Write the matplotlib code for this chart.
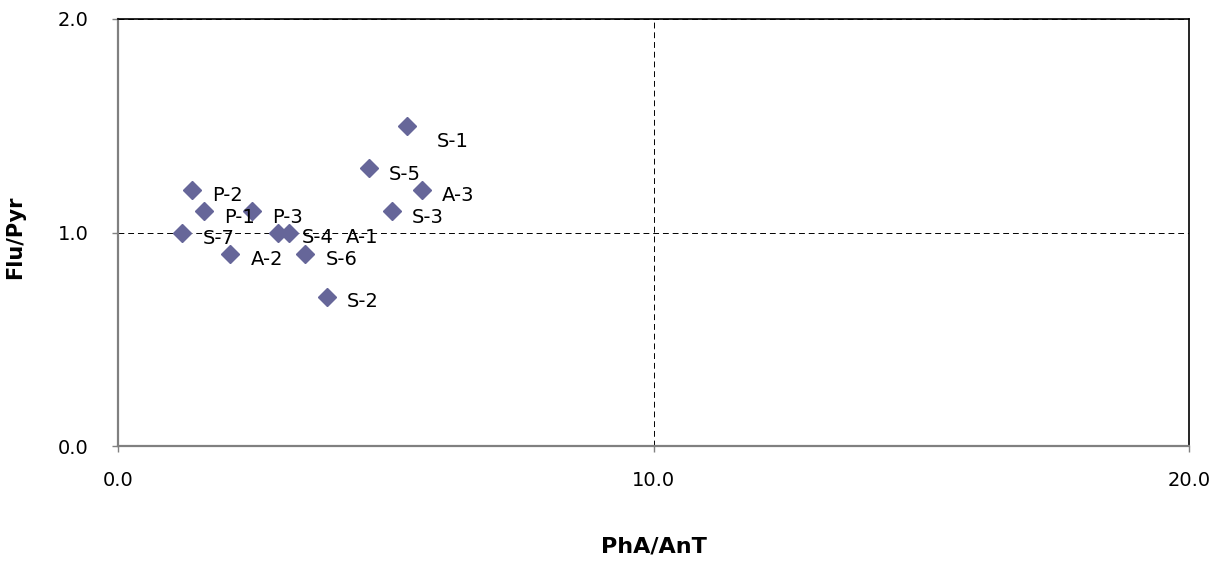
"""
Flu/Pyr vs PhA/AnT diagnostic ratio cross-plot.
"""
import matplotlib
matplotlib.use("Agg")
import matplotlib.pyplot as plt

# sample names and ratio values
samples = ["S-1", "S-5", "A-3", "S-3", "P-2", "P-1", "P-3",
           "S-7", "S-4", "A-1", "A-2", "S-6", "S-2"]
pha_ant = [5.40, 4.68, 5.68, 5.11, 1.39, 1.60, 2.50,
           1.20, 2.99, 3.19, 2.10, 3.50, 3.90]
flu_pyr = [1.50, 1.30, 1.20, 1.10, 1.20, 1.10, 1.10,
           1.00, 1.00, 1.00, 0.90, 0.90, 0.70]

x_ticks = [0.0, 10.0, 20.0]
y_ticks = [0.0, 1.0, 2.0]

# label offsets in pixels (right, down); most labels sit at the default spot
default_offset = (20, 6)
moved_labels = {"S-1": (30, 16), "S-4": (24, 5), "A-1": (57, 5), "S-2": (20, 5)}

MARKER_COLOR = "#666699"
SPINE_GRAY = "#808080"

plt.rcParams["font.family"] = ["DejaVu Sans"]

fig = plt.figure(figsize=(12.2, 5.62), dpi=100)
ax = fig.add_axes([118 / 1220, 1 - 446 / 562, (1189 - 118) / 1220, (446 - 19) / 562])

ax.plot(pha_ant, flu_pyr, linestyle="none", marker="D", markersize=9,
        markerfacecolor=MARKER_COLOR, markeredgecolor=MARKER_COLOR, zorder=3)

for name, x, y in zip(samples, pha_ant, flu_pyr):
    dx, dy = moved_labels.get(name, default_offset)
    ax.annotate(name, (x, y), xytext=(dx, -dy), textcoords="offset pixels",
                ha="left", va="center", fontsize=14, color="black")

ax.set_xlim(x_ticks[0], x_ticks[-1])
ax.set_ylim(y_ticks[0], y_ticks[-1])
ax.set_xticks(x_ticks)
ax.set_yticks(y_ticks)
ax.set_xticklabels([f"{t:.1f}" for t in x_ticks])
ax.set_yticklabels([f"{t:.1f}" for t in y_ticks])

ax.tick_params(axis="both", direction="out", length=4, width=1,
               color=SPINE_GRAY, labelsize=14, labelcolor="black")
ax.tick_params(axis="x", pad=14)
ax.tick_params(axis="y", pad=17)

# dashed reference lines through the middle ticks
ax.grid(True, color="black", linestyle=(0, (6, 4)), linewidth=0.7)
ax.set_axisbelow(True)

for side in ["left", "bottom"]:
    ax.spines[side].set_color(SPINE_GRAY)
    ax.spines[side].set_linewidth(1.6)
    ax.spines[side].set_zorder(4)
for side in ["top", "right"]:
    ax.spines[side].set_color("black")
    ax.spines[side].set_linewidth(1.2)
    ax.spines[side].set_zorder(4)

fig.text((118 + 1189) / 2 / 1220, 1 - 546 / 562, "PhA/AnT", ha="center", va="center",
         fontsize=16, fontweight="bold")
fig.text(15 / 1220, 1 - 237 / 562, "Flu/Pyr", ha="center", va="center",
         rotation=90, fontsize=15, fontweight="bold")

fig.savefig("out.png", dpi=100)
